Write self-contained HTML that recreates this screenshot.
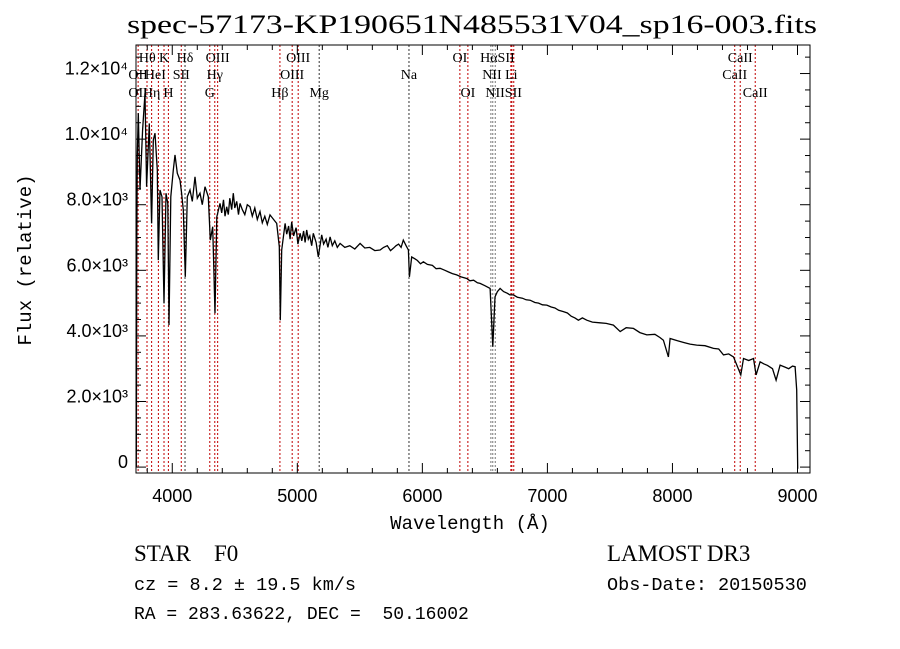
<!DOCTYPE html>
<html><head><meta charset="utf-8"><style>
body{margin:0;background:#fff;}
svg{display:block;}
text{fill:#000;white-space:pre;}
</style></head><body>
<svg id="chart" width="900" height="649" viewBox="0 0 900 649" xmlns="http://www.w3.org/2000/svg">
<text x="472" y="33" text-anchor="middle" font-family="Liberation Serif, serif" font-size="26" textLength="690" lengthAdjust="spacingAndGlyphs">spec-57173-KP190651N485531V04_sp16-003.fits</text>
<g id="lines"></g>
<g id="labels"></g>
<path id="spec" fill="none" stroke="#000" stroke-width="1.3"></path>
<rect x="136" y="45" width="674" height="428" fill="none" stroke="#000" stroke-width="1"></rect>
<g id="axes"></g>
<text x="470" y="529" text-anchor="middle" font-family="Liberation Mono, monospace" font-size="19">Wavelength (Å)</text>
<text transform="translate(31,260) rotate(-90)" text-anchor="middle" font-family="Liberation Mono, monospace" font-size="19">Flux (relative)</text>
<text x="134" y="561" font-family="Liberation Serif, serif" font-size="23" xml:space="preserve">STAR    F0</text>
<text x="134" y="590" font-family="Liberation Mono, monospace" font-size="18.5">cz = 8.2 ± 19.5 km/s</text>
<text x="134" y="619" font-family="Liberation Mono, monospace" font-size="18" xml:space="preserve">RA = 283.63622, DEC =  50.16002</text>
<text x="607" y="561" font-family="Liberation Serif, serif" font-size="23">LAMOST DR3</text>
<text x="607" y="590" font-family="Liberation Mono, monospace" font-size="18.5">Obs-Date: 20150530</text>
</svg>
<script>
const wave = [3712,3716,3720,3728,3742,3763,3782,3795,3816,3835,3848,3862,3880,3888,3902,3918,3934,3950,3964,3974,3988,4008,4022,4040,4062,4075,4088,4104,4120,4142,4160,4182,4200,4222,4240,4262,4288,4304,4323,4342,4356,4382,4395,4410,4422,4435,4448,4460,4475,4488,4500,4515,4530,4542,4560,4580,4600,4622,4640,4660,4680,4702,4720,4740,4760,4782,4810,4835,4856,4864,4875,4902,4915,4930,4942,4955,4970,4990,5005,5022,5036,5050,5062,5075,5088,5100,5115,5128,5150,5168,5195,5210,5230,5245,5262,5280,5300,5320,5342,5380,5420,5460,5502,5540,5580,5620,5662,5690,5720,5745,5768,5790,5810,5830,5848,5870,5888,5896,5915,5940,5960,5985,6008,6040,6080,6110,6142,6180,6210,6240,6275,6310,6355,6380,6410,6440,6462,6500,6542,6563,6581,6600,6622,6650,6680,6700,6728,6760,6800,6830,6862,6900,6930,6960,6995,7030,7060,7090,7128,7160,7190,7220,7248,7280,7315,7360,7420,7470,7528,7582,7630,7688,7740,7795,7860,7900,7928,7968,7981,8040,8090,8140,8194,8260,8328,8370,8408,8450,8488,8547,8568,8610,8648,8669,8701,8730,8760,8800,8829,8861,8900,8930,8960,8981,8994,9002];
const flux = [0,7000,9500,10790,8450,10280,11400,8550,10480,7430,9970,10180,9060,6310,8450,8240,4990,8350,8040,4330,8240,9060,9520,8960,8750,8350,7840,5800,8240,8450,8100,8850,8200,8350,8000,8550,8240,6920,7330,4690,7630,8040,7750,8150,7650,7940,7700,8200,7850,8350,7900,8100,7700,8040,7850,7700,8000,7940,7650,7900,7550,7790,7450,7650,7400,7690,7550,7430,6720,4480,6620,7430,7100,7350,6950,7480,7050,7300,6800,7130,6900,7200,6850,7230,6950,7050,6750,7130,6850,6410,7080,6800,6950,6700,7020,6750,6900,6700,6820,6700,6750,6650,6820,6680,6700,6600,6620,6700,6750,6600,6670,6750,6800,6700,6920,6750,6620,5800,6410,6350,6300,6200,6260,6180,6150,6050,6060,6000,5950,5900,5860,5800,5750,5680,5700,5620,5600,5530,5450,3670,5190,5350,5450,5350,5300,5250,5250,5180,5150,5100,5090,5020,5000,4950,4940,4880,4850,4780,4740,4700,4600,4550,4480,4550,4480,4420,4400,4380,4330,4130,4250,4230,4100,4030,4050,3950,3870,3360,3920,3850,3800,3750,3720,3700,3620,3600,3420,3450,3360,2810,3310,3250,3310,2810,3210,3150,3100,3000,2650,3110,3050,3000,3080,3060,2350,-50];
const lineWave = [3727,3798,3835,3889,3934,3969,4072,4102,4300,4340,4363,4861,4959,5007,5175,5893,6300,6364,6548,6563,6583,6708,6716,6731,8498,8542,8662];
const lineColor = ['r','r','r','r','r','r','r','k','r','r','r','r','r','r','k','k','r','r','g','g','g','r','r','r','r','r','r'];
const labelText = ['Hθ','K','Hδ','OIII','OIII','OI','HαSII','CaII','OII','HeI','SII','Hγ','OIII','Na','NII Li','CaII','OII','Hη','H','G','Hβ','Mg','OI','NIISII','CaII'];
const labelWave = [3800,3934,4102,4363,5007,6300,6600,8542,3727,3865,4072,4340,4959,5893,6620,8498,3727,3835,3969,4300,4861,5175,6364,6650,8662];
const labelRow = [0,0,0,0,0,0,0,0,1,1,1,1,1,1,1,1,2,2,2,2,2,2,2,2,2];
const xTicks = [4000,5000,6000,7000,8000,9000];
const yTicks = [0,2000,4000,6000,8000,10000,12000];
const yTickLabels = ['0','2.0×10³','4.0×10³','6.0×10³','8.0×10³','1.0×10⁴','1.2×10⁴'];

const NS='http://www.w3.org/2000/svg';
const X0=136,X1=810,Y0=45,Y1=473;
const WMIN=3710,WMAX=9100,FMIN=-180,FMAX=12870;
const xs=w=>X0+(w-WMIN)/(WMAX-WMIN)*(X1-X0);
const ys=f=>Y1-(f-FMIN)/(FMAX-FMIN)*(Y1-Y0);
function mk(tag,attrs,parent){const e=document.createElementNS(NS,tag);for(const k in attrs)e.setAttribute(k,attrs[k]);parent.appendChild(e);return e;}

let d='';
for(let i=0;i<wave.length;i++){d+=(i?'L':'M')+xs(wave[i]).toFixed(1)+' '+ys(flux[i]).toFixed(1);}
document.getElementById('spec').setAttribute('d',d);

const lg=document.getElementById('lines');
const cmap={r:'#c00000',k:'#333',g:'#777'};
lineWave.forEach((w,i)=>{
  const l=mk('line',{x1:xs(w),x2:xs(w),y1:Y0,y2:Y1,stroke:cmap[lineColor[i]],'stroke-width':1,'stroke-dasharray':'2,2'},lg);
  
  
});
const lb=document.getElementById('labels');
const rowY=[62,79,97];
labelText.forEach((t,i)=>{
  const e=mk('text',{x:xs(labelWave[i]),y:rowY[labelRow[i]],'text-anchor':'middle','font-family':'Liberation Serif, serif','font-size':14},lb);
  e.textContent=t;
  
  
});

const ax=document.getElementById('axes');
for(let w=3800;w<=9100;w+=200){
  const major=w%1000===0;const L=major?10:5;const x=xs(w);
  mk('line',{x1:x,x2:x,y1:Y1,y2:Y1-L,stroke:'#000'},ax);
  mk('line',{x1:x,x2:x,y1:Y0,y2:Y0+L,stroke:'#000'},ax);
}
xTicks.forEach(w=>{
  const t=mk('text',{x:xs(w),y:502,'text-anchor':'middle','font-family':'Liberation Sans, sans-serif','font-size':18},ax);
  t.textContent=w;
  
  
});
for(let f=0;f<=12500;f+=500){
  const major=f%2000===0;const L=major?10:5;const y=ys(f);
  mk('line',{x1:X0,x2:X0+L,y1:y,y2:y,stroke:'#000'},ax);
  mk('line',{x1:X1,x2:X1-L,y1:y,y2:y,stroke:'#000'},ax);
}
yTicks.forEach((f,i)=>{
  const t=mk('text',{x:128,y:ys(f)+1,'text-anchor':'end','font-family':'Liberation Sans, sans-serif','font-size':18},ax);
  t.textContent=yTickLabels[i];
  
  
});
</script>
</body></html>
